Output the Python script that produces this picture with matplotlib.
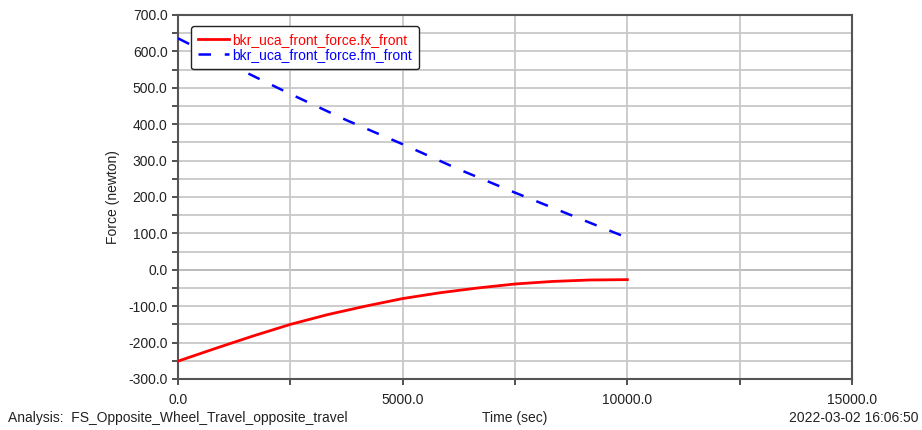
import matplotlib
matplotlib.use("Agg")
import matplotlib.pyplot as plt
from matplotlib.ticker import MultipleLocator, FuncFormatter

plt.rcParams['font.family'] = ['Liberation Sans', 'DejaVu Sans']
plt.rcParams['axes.unicode_minus'] = False

# Force components of the front upper control arm bushing over time
time_fx = [0, 833, 1667, 2500, 3333, 4167, 5000, 5833, 6667, 7500, 8333, 9167, 10000]
fx_front = [-251, -216, -182, -150, -123, -100, -79, -63, -50, -39, -32, -28, -27]

time_fm = [0, 1250, 2500, 3750, 5000, 6250, 7500, 8750, 10000]
fm_front = [636, 558, 483, 411, 345, 276, 212, 150, 88]

fig = plt.figure(figsize=(9.22, 4.30), dpi=100)
ax = fig.add_axes([178 / 922, 1 - 379 / 430, (852 - 178) / 922, (379 - 15) / 430])

ax.set_xlim(0, 15000)
ax.set_ylim(-300, 700)

ax.xaxis.set_major_locator(MultipleLocator(5000))
ax.xaxis.set_minor_locator(MultipleLocator(2500))
ax.yaxis.set_major_locator(MultipleLocator(100))
ax.yaxis.set_minor_locator(MultipleLocator(50))
fmt = FuncFormatter(lambda v, p: f"{v:.1f}")
ax.xaxis.set_major_formatter(fmt)
ax.yaxis.set_major_formatter(fmt)

ax.grid(True, which='both', color='#c8c8c8', linewidth=1.3, zorder=0)
ax.axhline(0, color='#333333', linewidth=1.2, zorder=1)

ax.tick_params(which='both', direction='out', length=4, width=1.2, color='#333333',
               labelsize=10, labelcolor='#222222', top=False, right=False)
ax.tick_params(axis='x', pad=6)
for side in ['left', 'bottom', 'top', 'right']:
    ax.spines[side].set_color('#555555')
    ax.spines[side].set_linewidth(1.5)

ax.plot(time_fx, fx_front, color='#ff0000', linewidth=2, label='bkr_uca_front_force.fx_front',
        zorder=3, solid_joinstyle='round')
ax.plot(time_fm, fm_front, color='#0000ff', linewidth=1.8, linestyle=(0, (5, 5.5)),
        label='bkr_uca_front_force.fm_front', zorder=3)

leg = ax.legend(loc='upper left', bbox_to_anchor=(13 / 674, 1 - 11 / 364), borderaxespad=0,
                fontsize=10, frameon=True, fancybox=True, edgecolor='#222222', framealpha=1,
                handlelength=2.2, handletextpad=0.25, borderpad=0.5, labelspacing=0.1)
leg.get_frame().set_linewidth(1.0)
for txt, col in zip(leg.get_texts(), ['#ff0000', '#0000ff']):
    txt.set_color(col)

ax.set_ylabel('Force (newton)', fontsize=10, color='#222222', labelpad=6)

fig.text(8 / 922, 1 - 418 / 430, 'Analysis:  FS_Opposite_Wheel_Travel_opposite_travel',
         fontsize=10, color='#222222', va='center', ha='left')
fig.text(515 / 922, 1 - 418 / 430, 'Time (sec)', fontsize=10, color='#222222',
         va='center', ha='center')
fig.text(918 / 922, 1 - 418 / 430, '2022-03-02 16:06:50', fontsize=10, color='#222222',
         va='center', ha='right')

fig.savefig('out.png', dpi=100)
